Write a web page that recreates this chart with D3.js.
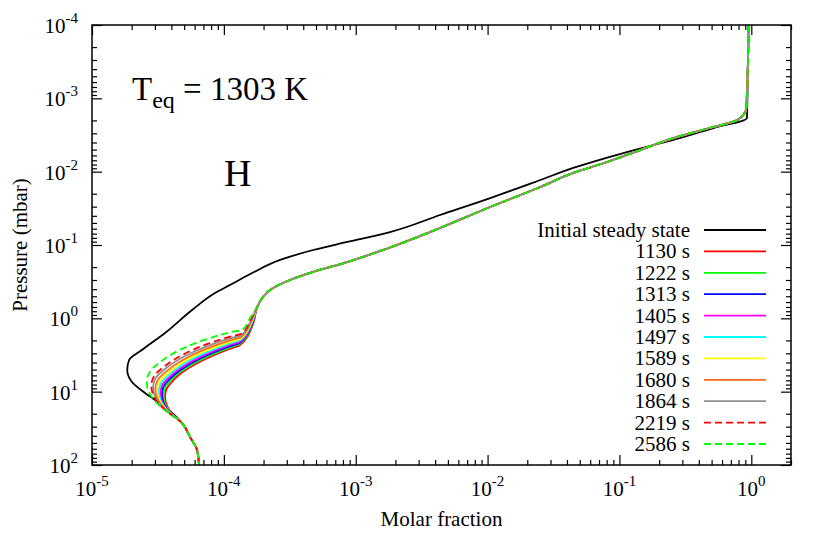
<!DOCTYPE html>
<html>
<head>
<meta charset="utf-8">
<script src="https://cdn.jsdelivr.net/npm/d3@7"></script>
<style>
  body { margin: 0; background: #fff; }
  svg text { font-family: "Liberation Serif", "Times New Roman", serif; fill: #000; }
</style>
</head>
<body>
<svg id="chart" width="830" height="534"></svg>
<script>
// tick labels
const xMajor = [1e-5, 1e-4, 1e-3, 1e-2, 1e-1, 1];
const xTickExp = ["-5", "-4", "-3", "-2", "-1", "0"];
const yMajor = [1e-4, 1e-3, 1e-2, 1e-1, 1, 10, 100];
const yTickExp = ["-4", "-3", "-2", "-1", "0", "1", "2"];

// legend / series names
const seriesNames = ["Initial steady state", "1130 s", "1222 s", "1313 s", "1405 s",
  "1497 s", "1589 s", "1680 s", "1864 s", "2219 s", "2586 s"];

// profiles as [pressure (mbar), molar fraction]
const initialProfile = [
  [1e-4, 0.948], [1.85e-3, 0.927], [2.54e-3, 0.515], [3.70e-3, 0.256], [5.57e-3, 0.107],
  [8.9e-3, 0.0446], [0.0130, 0.0251], [0.0229, 0.01047], [0.0390, 0.00436], [0.0665, 0.00182],
  [0.0910, 8.61e-4], [0.117, 4.75e-4], [0.160, 2.67e-4], [0.241, 1.64e-4], [0.352, 1.11e-4],
  [0.452, 8.57e-5], [0.771, 5.74e-5], [1.585, 3.58e-5], [2.70, 2.39e-5], [3.70, 1.91e-5],
  [5.07, 1.85e-5], [7.38, 2.01e-5], [10.4, 2.52e-5], [13.0, 3.01e-5], [16.2, 3.51e-5],
  [19.5, 4.05e-5]
];

// upper part shared by all the later profiles
const upperProfile = [
  [1e-4, 0.955], [1.36e-3, 0.916], [1.98e-3, 0.784], [2.46e-3, 0.515], [3.48e-3, 0.256],
  [5.07e-3, 0.144], [7.38e-3, 0.0807], [0.0104, 0.0446], [0.0162, 0.0251], [0.0303, 0.01047],
  [0.0586, 0.00436], [0.117, 1.61e-3], [0.171, 8.61e-4], [0.233, 4.75e-4], [0.300, 3.18e-4],
  [0.386, 2.36e-4], [0.512, 1.98e-4], [0.701, 1.79e-4]
];

// deep part, same for every profile
const tailProfile = [[26.8, 4.82e-5], [41.5, 5.54e-5], [62.5, 6.26e-5], [100, 6.48e-5]];

const lower1130 = [[1.195, 1.666e-4], [2.311, 1.327e-4], [2.704, 1.052e-4], [3.905, 6.60e-5], [5.746, 4.652e-5], [7.866, 3.907e-5], [9.496, 3.643e-5], [11.72, 3.580e-5], [15.21, 3.688e-5], [17.51, 3.838e-5], [19.86, 4.046e-5]];
const lower1222 = [[1.175, 1.658e-4], [2.215, 1.331e-4], [2.572, 1.063e-4], [3.655, 6.70e-5], [5.313, 4.701e-5], [7.341, 3.866e-5], [9.031, 3.555e-5], [11.23, 3.481e-5], [14.58, 3.580e-5], [17.03, 3.750e-5], [19.55, 3.982e-5]];
const lower1313 = [[1.158, 1.651e-4], [2.133, 1.335e-4], [2.454, 1.072e-4], [3.444, 6.80e-5], [4.973, 4.743e-5], [6.917, 3.826e-5], [8.616, 3.475e-5], [10.82, 3.391e-5], [14.04, 3.487e-5], [16.66, 3.672e-5], [19.31, 3.927e-5]];
const lower1405 = [[1.140, 1.644e-4], [2.054, 1.339e-4], [2.341, 1.082e-4], [3.245, 6.89e-5], [4.641, 4.793e-5], [6.514, 3.790e-5], [8.220, 3.397e-5], [10.42, 3.304e-5], [13.52, 3.397e-5], [16.24, 3.596e-5], [19.01, 3.873e-5]];
const lower1497 = [[1.121, 1.636e-4], [1.969, 1.343e-4], [2.226, 1.091e-4], [3.028, 7.00e-5], [4.291, 4.844e-5], [6.079, 3.747e-5], [7.817, 3.315e-5], [9.985, 3.212e-5], [12.96, 3.298e-5], [15.84, 3.512e-5], [18.71, 3.812e-5]];
const lower1589 = [[1.102, 1.629e-4], [1.887, 1.347e-4], [2.110, 1.103e-4], [2.835, 7.11e-5], [3.979, 4.895e-5], [5.692, 3.708e-5], [7.410, 3.229e-5], [9.571, 3.118e-5], [12.42, 3.207e-5], [15.40, 3.430e-5], [18.42, 3.753e-5]];
const lower1680 = [[1.082, 1.620e-4], [1.801, 1.352e-4], [1.994, 1.114e-4], [2.629, 7.24e-5], [3.644, 4.95e-5], [5.279, 3.663e-5], [7.002, 3.140e-5], [9.129, 3.022e-5], [11.85, 3.102e-5], [14.97, 3.341e-5], [18.13, 3.688e-5]];
const lower1864 = [[1.057, 1.610e-4], [1.702, 1.357e-4], [1.861, 1.130e-4], [2.408, 7.39e-5], [3.296, 5.03e-5], [4.820, 3.609e-5], [6.535, 3.038e-5], [8.630, 2.908e-5], [11.20, 2.980e-5], [14.42, 3.238e-5], [17.74, 3.612e-5]];
const lower2219 = [[1.038, 1.601e-4], [1.623, 1.362e-4], [1.759, 1.142e-4], [2.233, 7.52e-5], [3.018, 5.08e-5], [4.470, 3.565e-5], [6.176, 2.954e-5], [8.233, 2.818e-5], [10.68, 2.888e-5], [14.02, 3.154e-5], [17.46, 3.549e-5]];
const lower2586 = [[0.990, 1.581e-4], [1.443, 1.374e-4], [1.522, 1.174e-4], [1.855, 7.86e-5], [2.438, 5.23e-5], [3.701, 3.457e-5], [5.346, 2.754e-5], [7.318, 2.601e-5], [9.496, 2.660e-5], [13.00, 2.954e-5], [16.71, 3.397e-5]];

const colors = ["#000000", "#ff0000", "#00ff00", "#0000ff", "#ff00ff", "#00ffff",
  "#ffff00", "#ff6a1a", "#909090", "#ff0000", "#00ff00"];
const dashes = [null, null, null, null, null, null, null, null, null, "7,4", "7,4"];

const profiles = [initialProfile.concat(tailProfile)].concat(
  [lower1130, lower1222, lower1313, lower1405, lower1497, lower1589, lower1680,
   lower1864, lower2219, lower2586].map(l => upperProfile.concat(l, tailProfile)));

let svg = d3.select("#chart");
let margin = { left: 92, right: 791, top: 25, bottom: 465 };

let x = d3.scaleLog().domain([1e-5, 2]).range([margin.left, margin.right]);
let y = d3.scaleLog().domain([1e-4, 100]).range([margin.top, margin.bottom]);

// minor ticks 2..9 of each decade
function minorTicks(scale) {
  let [lo, hi] = scale.domain();
  let out = [];
  for (let e = Math.floor(Math.log10(lo)); e <= Math.ceil(Math.log10(hi)); e++) {
    for (let k = 2; k <= 9; k++) {
      let v = k * Math.pow(10, e);
      if (v > lo && v <= hi) out.push(v);
    }
  }
  return out;
}

function addTicks(axisFn, scale, values, size, transform) {
  svg.append("g")
    .attr("transform", transform)
    .call(axisFn(scale).tickValues(values).tickSize(size).tickFormat(""))
    .call(g => g.select(".domain").remove())
    .selectAll("line")
    .attr("stroke", "#000")
    .attr("stroke-width", 1.2);
}

// inward ticks on all four sides
addTicks(d3.axisBottom, x, xMajor, -10, `translate(0,${margin.bottom})`);
addTicks(d3.axisBottom, x, minorTicks(x), -5, `translate(0,${margin.bottom})`);
addTicks(d3.axisTop, x, xMajor, -10, `translate(0,${margin.top})`);
addTicks(d3.axisTop, x, minorTicks(x), -5, `translate(0,${margin.top})`);
addTicks(d3.axisLeft, y, yMajor, -10, `translate(${margin.left},0)`);
addTicks(d3.axisLeft, y, minorTicks(y), -5, `translate(${margin.left},0)`);
addTicks(d3.axisRight, y, yMajor, -10, `translate(${margin.right},0)`);
addTicks(d3.axisRight, y, minorTicks(y), -5, `translate(${margin.right},0)`);

// tick labels
xMajor.forEach((v, i) => {
  let t = svg.append("text")
    .attr("x", x(v)).attr("y", 496)
    .attr("text-anchor", "middle")
    .attr("font-size", "21px");
  t.append("tspan").text("10");
  t.append("tspan").attr("dy", -10).attr("font-size", "15px").text(xTickExp[i]);
});

yMajor.forEach((v, i) => {
  let t = svg.append("text")
    .attr("x", 78).attr("y", y(v) + 8)
    .attr("text-anchor", "end")
    .attr("font-size", "21px");
  t.append("tspan").text("10");
  t.append("tspan").attr("dy", -10).attr("font-size", "15px").text(yTickExp[i]);
});

// axis titles
svg.append("text")
  .attr("x", (margin.left + margin.right) / 2).attr("y", 526)
  .attr("text-anchor", "middle")
  .attr("font-size", "21px")
  .text("Molar fraction");

svg.append("text")
  .attr("transform", `translate(27,${(margin.top + margin.bottom) / 2}) rotate(-90)`)
  .attr("text-anchor", "middle")
  .attr("font-size", "21px")
  .text("Pressure (mbar)");

// curves
svg.append("clipPath").attr("id", "plotClip")
  .append("rect")
  .attr("x", margin.left).attr("y", margin.top)
  .attr("width", margin.right - margin.left).attr("height", margin.bottom - margin.top);

let line = d3.line()
  .x(d => x(d[1]))
  .y(d => y(d[0]))
  .curve(d3.curveMonotoneY);

let curves = svg.append("g").attr("clip-path", "url(#plotClip)");
profiles.forEach((p, i) => {
  curves.append("path")
    .attr("d", line(p))
    .attr("fill", "none")
    .attr("stroke", colors[i])
    .attr("stroke-width", 1.8)
    .attr("stroke-dasharray", dashes[i]);
});

// frame
svg.append("rect")
  .attr("x", margin.left).attr("y", margin.top)
  .attr("width", margin.right - margin.left).attr("height", margin.bottom - margin.top)
  .attr("fill", "none")
  .attr("stroke", "#000")
  .attr("stroke-width", 1.5);

// annotations
let teq = svg.append("text").attr("x", 132).attr("y", 100).attr("font-size", "33px");
teq.append("tspan").text("T");
teq.append("tspan").attr("dy", 8).attr("font-size", "24px").text("eq");
teq.append("tspan").attr("dy", -8).text(" = 1303 K");

svg.append("text")
  .attr("x", 224).attr("y", 186)
  .attr("font-size", "38px")
  .text("H");

// legend
seriesNames.forEach((name, i) => {
  let cy = 230 + i * 21.4;
  svg.append("text")
    .attr("x", 690).attr("y", cy + 7)
    .attr("text-anchor", "end")
    .attr("font-size", "21px")
    .text(name);
  svg.append("line")
    .attr("x1", 704).attr("x2", 766)
    .attr("y1", cy).attr("y2", cy)
    .attr("stroke", colors[i])
    .attr("stroke-width", 1.8)
    .attr("stroke-dasharray", dashes[i]);
});
</script>
</body>
</html>
